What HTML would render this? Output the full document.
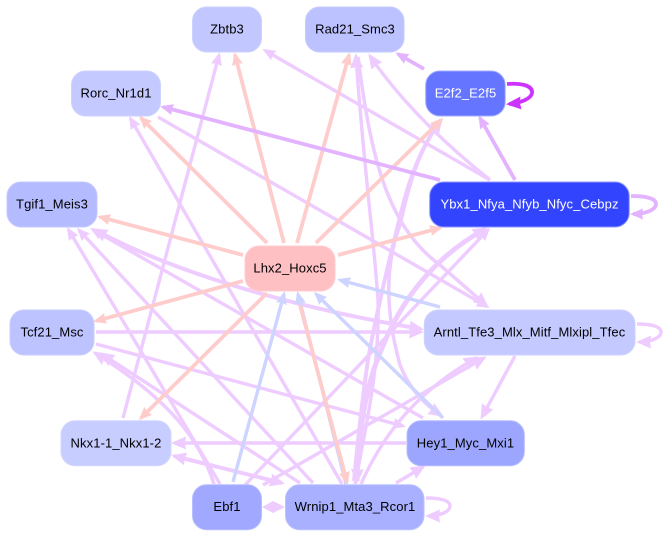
<!DOCTYPE html>
<html><head><meta charset="utf-8"><style>html,body{margin:0;padding:0;background:#fff}svg{display:block}text{font-family:"Liberation Sans",sans-serif;font-size:13px;letter-spacing:.1px;text-anchor:middle}</style></head><body>
<svg width="666" height="536" viewBox="0 0 666 536" xmlns="http://www.w3.org/2000/svg">
<defs>
<marker id="p" markerUnits="userSpaceOnUse" markerWidth="15" markerHeight="12" refX="10" refY="5.5" orient="auto" overflow="visible"><path d="M0,0L13,5.5L0,11L1,5.5Z" fill="#eeccff"/></marker>
<marker id="P" markerUnits="userSpaceOnUse" markerWidth="17" markerHeight="14" refX="12" refY="6.5" orient="auto" overflow="visible"><path d="M0,0L15,6.5L0,13L1,6.5Z" fill="#eeccff"/></marker>
<marker id="ps" markerUnits="userSpaceOnUse" markerWidth="17" markerHeight="14" refX="3" refY="6.5" orient="auto" overflow="visible"><path d="M15,0L0,6.5L15,13L14,6.5Z" fill="#eeccff"/></marker>
<marker id="k" markerUnits="userSpaceOnUse" markerWidth="15" markerHeight="12" refX="10" refY="5.5" orient="auto" overflow="visible"><path d="M0,0L13,5.5L0,11L1,5.5Z" fill="#ffcccc"/></marker>
<marker id="b" markerUnits="userSpaceOnUse" markerWidth="15" markerHeight="12" refX="10" refY="5.5" orient="auto" overflow="visible"><path d="M0,0L13,5.5L0,11L1,5.5Z" fill="#ccd4ff"/></marker>
<marker id="m" markerUnits="userSpaceOnUse" markerWidth="15" markerHeight="12" refX="10" refY="5.5" orient="auto" overflow="visible"><path d="M0,0L13,5.5L0,11L1,5.5Z" fill="#e3b3ff"/></marker>
<marker id="v" markerUnits="userSpaceOnUse" markerWidth="17" markerHeight="14" refX="12" refY="6.5" orient="auto" overflow="visible"><path d="M0,0L15,6.5L0,13L1,6.5Z" fill="#cc33ff"/></marker>
</defs>
<g fill="none" stroke="#eeccff" stroke-width="3.4">
<path d="M123,418L219,55" marker-end="url(#p)"/>
<path d="M490,180L265,50.5" marker-end="url(#p)"/>
<path d="M158,117L487,306.5" marker-end="url(#p)"/>
<path d="M342,484L130.5,118.6" marker-end="url(#p)"/>
<path d="M313,483L79,230" marker-end="url(#p)"/>
<path d="M220,484L68.5,229.6" marker-end="url(#p)"/>
<path d="M423,418L92.6,229.5" marker-end="url(#p)"/>
<path d="M95,230C170,270 280,305 421,329" stroke-width="4" marker-start="url(#ps)" marker-end="url(#P)"/>
<path d="M96,332L421,332" marker-end="url(#P)"/>
<path d="M96,344L403,426" marker-end="url(#p)"/>
<path d="M214,484C200,440 170,400 95,353" stroke-width="3.5" marker-end="url(#P)"/>
<path d="M300,483L102,354" marker-end="url(#P)"/>
<path d="M174,456L282,483" stroke-width="4" marker-start="url(#ps)" marker-end="url(#P)"/>
<path d="M406,443L174,443" marker-end="url(#P)"/>
<path d="M245,485L488,230" marker-end="url(#p)"/>
<path d="M263,485L484,358" marker-end="url(#P)"/>
<path d="M361,484C385,430 420,390 476,358" marker-end="url(#P)"/>
<path d="M396,483L423,467" marker-end="url(#P)"/>
<path d="M515,356L482,417" marker-end="url(#P)"/>
<path d="M485,229C420,265 390,320 372,375C362,410 358,450 357,481" stroke-width="5" marker-start="url(#ps)" marker-end="url(#P)"/>
<path d="M354,481C357,450 362,400 368,360C375,320 388,265 398,225C405,195 415,155 441,120" stroke-width="4" marker-end="url(#P)"/>
<path d="M441,120C415,155 407,195 400,225C385,265 385,310 400,365C410,390 425,405 441,415" stroke-width="3.5" marker-end="url(#P)"/>
<path d="M355,484C365,430 380,370 378,300C375,250 362,150 356,56" marker-end="url(#P)"/>
<path d="M358,57C370,150 385,225 440,265L486,305" stroke-width="3.5" marker-end="url(#P)"/>
<path d="M490,180C440,140 400,100 370,56" marker-end="url(#P)"/>
<path d="M637,324C650,324 661,326 661,332C661,338 650,342 639,342" marker-end="url(#P)"/>
<path d="M426,498C439,498 450,500 450,506C450,512 439,516 428,516" marker-end="url(#P)"/>
</g>
<g fill="none" stroke="#ccd4ff" stroke-width="3.4">
<path d="M440,307L340,280" marker-end="url(#b)"/>
<path d="M443,418L316,294" marker-end="url(#b)"/>
<path d="M346,484L298,294" marker-end="url(#b)"/>
<path d="M233,482L284,294" marker-end="url(#b)"/>
</g>
<g fill="none" stroke="#ffcccc" stroke-width="3.8">
<path d="M284,243L235,55" marker-end="url(#k)"/>
<path d="M267,243L141,118" marker-end="url(#k)"/>
<path d="M297,243L349,55" marker-end="url(#k)"/>
<path d="M316,243L441,120" marker-end="url(#k)"/>
<path d="M243,255L100,217" marker-end="url(#k)"/>
<path d="M243,281L96,321" marker-end="url(#k)"/>
<path d="M267,293L141,418" marker-end="url(#k)"/>
<path d="M338,255L440,228" marker-end="url(#k)"/>
<path d="M300,305L347,482" marker-end="url(#k)"/>
</g>
<g fill="none" stroke="#e3b3ff" stroke-width="3.8">
<path d="M440,180L163,107" marker-end="url(#m)"/>
<path d="M515,180L480,118" marker-end="url(#m)"/>
<path d="M424,69L398,54" marker-end="url(#m)"/>
<path d="M631,196C645,196 656,198 656,204C656,210 645,214 633,214" marker-end="url(#m)"/>
</g>
<path d="M507,84C520,83 533,85 532,93C531,99 520,103 509,104" fill="none" stroke="#cc33ff" stroke-width="3.8" marker-end="url(#v)"/>
<path d="M262,507L273,501L285,507L273,513Z" fill="#eeccff"/>
<g stroke-width="1">
<rect x="192.5" y="7" width="69" height="45" rx="14" fill="#c2c8ff" stroke="#ccd1ff"/>
<rect x="305.5" y="7" width="98.5" height="45" rx="14" fill="#bcc2ff" stroke="#c6cbff"/>
<rect x="71.5" y="71" width="89" height="45" rx="14" fill="#c4c9ff" stroke="#ced2ff"/>
<rect x="425.7" y="71" width="79.5" height="45" rx="14" fill="#6675ff" stroke="#a3acff"/>
<rect x="7" y="182" width="90" height="45" rx="14" fill="#b5bbff" stroke="#c3c8ff"/>
<rect x="429.7" y="182" width="199.5" height="45" rx="14" fill="#3344ff" stroke="#8c96ff"/>
<rect x="245" y="246" width="90" height="45" rx="14" fill="#ffc0c4" stroke="#ffccd0"/>
<rect x="10" y="310" width="84" height="45" rx="14" fill="#bdc3ff" stroke="#c9ceff"/>
<rect x="424.3" y="310" width="210.7" height="45" rx="14" fill="#c4c9ff" stroke="#ced2ff"/>
<rect x="61" y="420.7" width="110" height="45" rx="14" fill="#c8cdff" stroke="#d2d6ff"/>
<rect x="407" y="420.7" width="117.3" height="45" rx="14" fill="#9da6ff" stroke="#b5bcff"/>
<rect x="192.5" y="484.7" width="69" height="45" rx="14" fill="#a0a9ff" stroke="#b8beff"/>
<rect x="285.5" y="484.7" width="138.5" height="45" rx="14" fill="#a8b0ff" stroke="#bdc3ff"/>
</g>
<text x="227" y="33.5">Zbtb3</text>
<text x="355" y="33.5">Rad21_Smc3</text>
<text x="116" y="97.5">Rorc_Nr1d1</text>
<text x="465.5" y="97.5" fill="#fff">E2f2_E2f5</text>
<text x="52" y="208.5">Tgif1_Meis3</text>
<text x="529.5" y="208.5" fill="#fff">Ybx1_Nfya_Nfyb_Nfyc_Cebpz</text>
<text x="290" y="272.5">Lhx2_Hoxc5</text>
<text x="52" y="336.5">Tcf21_Msc</text>
<text x="529.5" y="336.5">Arntl_Tfe3_Mlx_Mitf_Mlxipl_Tfec</text>
<text x="116" y="447.5">Nkx1-1_Nkx1-2</text>
<text x="465.5" y="447.5">Hey1_Myc_Mxi1</text>
<text x="227" y="511">Ebf1</text>
<text x="355" y="511">Wrnip1_Mta3_Rcor1</text>
</svg>
</body></html>
